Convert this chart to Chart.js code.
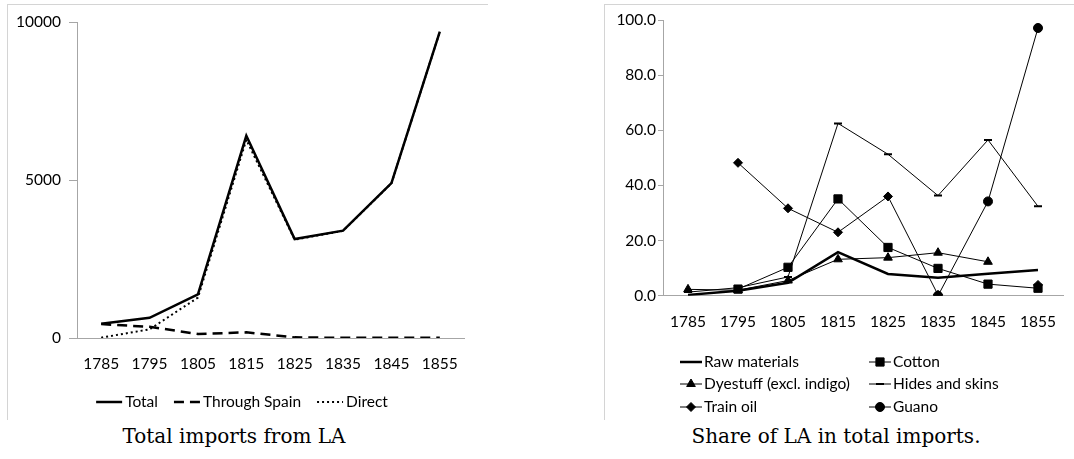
<!DOCTYPE html>
<html>
<head>
<meta charset="utf-8">
<script src="https://cdn.jsdelivr.net/npm/chart.js@4"></script>
<style>
  body { margin: 0; background: #fff; width: 1074px; height: 459px; overflow: hidden; position: relative; }
  .box { position: absolute; border-left: 1px solid #d4d4d4; border-top: 1px solid #d4d4d4; }
  .box canvas { position: absolute; left: 0; top: 0; }
  .caption { position: absolute; font-family: "DejaVu Serif", serif; font-size: 20px; color: #000; white-space: nowrap; transform: translateX(-50%); }
</style>
</head>
<body>
<div class="box" style="left:7px; top:4px; width:480px; height:415px;"><canvas id="importsChart" width="480" height="415"></canvas></div>
<div class="box" style="left:604px; top:4px; width:469px; height:415px;"><canvas id="shareChart" width="469" height="415"></canvas></div>
<div class="caption" style="left:234px; top:424px;">Total imports from LA</div>
<div class="caption" style="left:836px; top:424px;">Share of LA in total imports.</div>
<script>
// years on both x axes
const years = ['1785', '1795', '1805', '1815', '1825', '1835', '1845', '1855'];

// left chart: total imports from LA
const total = [450, 640, 1385, 6405, 3135, 3400, 4905, 9705];
const throughSpain = [440, 355, 125, 180, 20, 5, 5, 5];
const direct = [10, 275, 1280, 6280, 3115, 3395, 4900, 9700];
const importTicks = [0, 5000, 10000];

// right chart: share of LA in total imports (%)
const rawMaterials = [0.3, 1.8, 4.7, 15.8, 7.9, 6.5, 8.0, 9.3];
const cotton = [null, 2.4, 10.3, 35.1, 17.5, 9.9, 4.2, 2.7];
const dyestuff = [2.3, 2.0, 5.5, 13.2, 13.8, 15.6, 12.3, null];
const hides = [1.3, 2.9, 6.8, 62.5, 51.3, 36.3, 56.5, 32.4];
const trainOil = [null, 48.2, 31.7, 23.0, 36.0, 0.3, null, 3.9];
const guano = [null, null, null, null, null, 0.0, 34.2, 97.1];
const shareTicks = [0, 20, 40, 60, 80, 100];

const FONT = 'Lato';
const FONT_SIZE = 15.5;
Chart.defaults.font.family = FONT;
Chart.defaults.font.size = FONT_SIZE;
Chart.defaults.color = '#000';

// excel style legend: short line with the marker in the middle
const excelLegend = {
  id: 'excelLegend',
  afterDraw(chart, args, opts) {
    const ctx = chart.ctx;
    ctx.save();
    ctx.font = FONT_SIZE + 'px ' + FONT;
    ctx.textBaseline = 'middle';
    const items = chart.data.datasets.map(ds => ({ ds: ds, w: ctx.measureText(ds.label).width }));
    let x = 0;
    if (!opts.cols) {
      const sum = items.reduce((s, it) => s + opts.sample + opts.gap + it.w, 0) + opts.spacing * (items.length - 1);
      x = opts.cx - sum / 2;
    }
    items.forEach((it, k) => {
      let ix, iy;
      if (opts.cols) {
        ix = opts.colX[k % opts.cols];
        iy = opts.rowY[Math.floor(k / opts.cols)];
      } else {
        ix = x; iy = opts.y;
        x += opts.sample + opts.gap + it.w + opts.spacing;
      }
      const ds = it.ds;
      ctx.strokeStyle = '#000';
      ctx.fillStyle = '#000';
      ctx.lineWidth = ds.borderWidth;
      ctx.setLineDash(ds.borderDash || []);
      ctx.beginPath();
      ctx.moveTo(ix, iy);
      ctx.lineTo(ix + opts.sample, iy);
      ctx.stroke();
      ctx.setLineDash([]);
      if (ds.pointRadius > 0) {
        ctx.lineWidth = ds.pointBorderWidth || 1;
        Chart.helpers.drawPoint(ctx, { pointStyle: ds.pointStyle, radius: ds.pointRadius, borderWidth: ds.pointBorderWidth || 1, rotation: 0 }, ix + opts.sample / 2, iy);
      }
      ctx.fillText(ds.label, ix + opts.sample + opts.gap, iy);
    });
    ctx.restore();
  }
};

let importsChart = new Chart(document.getElementById('importsChart'), {
  type: 'line',
  data: {
    labels: years,
    datasets: [
      { label: 'Total', data: total, borderColor: '#000', borderWidth: 2.5, pointRadius: 0 },
      { label: 'Through Spain', data: throughSpain, borderColor: '#000', borderWidth: 2.5, borderDash: [10, 6], pointRadius: 0 },
      { label: 'Direct', data: direct, borderColor: '#000', borderWidth: 2, borderDash: [2, 3], pointRadius: 0 }
    ]
  },
  options: {
    responsive: false,
    animation: false,
    events: [],
    layout: { padding: { top: 15, right: 24, left: 0, bottom: 0 } },
    plugins: {
      legend: { display: false },
      tooltip: { enabled: false },
      excelLegend: { cx: 234, y: 397, sample: 26, gap: 3, spacing: 16 }
    },
    scales: {
      x: {
        offset: true,
        grid: { display: false, drawTicks: false },
        border: { color: '#a6a6a6', width: 1 },
        ticks: { padding: 17 },
        afterFit(scale) { scale.height = 82; }
      },
      y: {
        min: 0, max: 10000,
        afterBuildTicks(scale) { scale.ticks = importTicks.map(v => ({ value: v })); },
        grid: { drawOnChartArea: false, drawTicks: true, tickLength: 8, color: '#a6a6a6' },
        border: { color: '#a6a6a6', width: 1 },
        ticks: { padding: 8, callback: v => String(v) },
        afterFit(scale) { scale.width = 69; }
      }
    }
  },
  plugins: [excelLegend]
});

let shareChart = new Chart(document.getElementById('shareChart'), {
  type: 'line',
  data: {
    labels: years,
    datasets: [
      { label: 'Raw materials', data: rawMaterials, borderColor: '#000', borderWidth: 2.5, pointRadius: 0 },
      { label: 'Cotton', data: cotton, borderColor: '#000', borderWidth: 1, pointStyle: 'rect', pointRadius: 5.8, pointBackgroundColor: '#000', pointBorderColor: '#000' },
      { label: 'Dyestuff (excl. indigo)', data: dyestuff, borderColor: '#000', borderWidth: 1, pointStyle: 'triangle', pointRadius: 5, pointBackgroundColor: '#000', pointBorderColor: '#000' },
      { label: 'Hides and skins', data: hides, borderColor: '#000', borderWidth: 1, pointStyle: 'line', pointRadius: 4, pointBorderWidth: 2, pointBackgroundColor: '#000', pointBorderColor: '#000' },
      { label: 'Train oil', data: trainOil, borderColor: '#000', borderWidth: 1, pointStyle: 'rectRot', pointRadius: 4.5, pointBackgroundColor: '#000', pointBorderColor: '#000' },
      { label: 'Guano', data: guano, borderColor: '#000', borderWidth: 1, pointStyle: 'circle', pointRadius: 4.5, pointBackgroundColor: '#000', pointBorderColor: '#000' }
    ]
  },
  options: {
    responsive: false,
    animation: false,
    events: [],
    layout: { padding: { top: 15, right: 11, left: 0, bottom: 0 } },
    plugins: {
      legend: { display: false },
      tooltip: { enabled: false },
      excelLegend: { cols: 2, colX: [75, 264], rowY: [357, 379, 402], sample: 22, gap: 2 }
    },
    scales: {
      x: {
        offset: true,
        grid: { display: false, drawTicks: false },
        border: { color: '#a6a6a6', width: 1 },
        ticks: { padding: 17 },
        afterFit(scale) { scale.height = 124.3; }
      },
      y: {
        min: 0, max: 100,
        afterBuildTicks(scale) { scale.ticks = shareTicks.map(v => ({ value: v })); },
        grid: { drawOnChartArea: false, drawTicks: true, tickLength: 5, color: '#a6a6a6' },
        border: { color: '#a6a6a6', width: 1 },
        ticks: { padding: 2, callback: v => Number(v).toFixed(1) },
        afterFit(scale) { scale.width = 58; }
      }
    }
  },
  plugins: [excelLegend]
});
</script>
</body>
</html>
